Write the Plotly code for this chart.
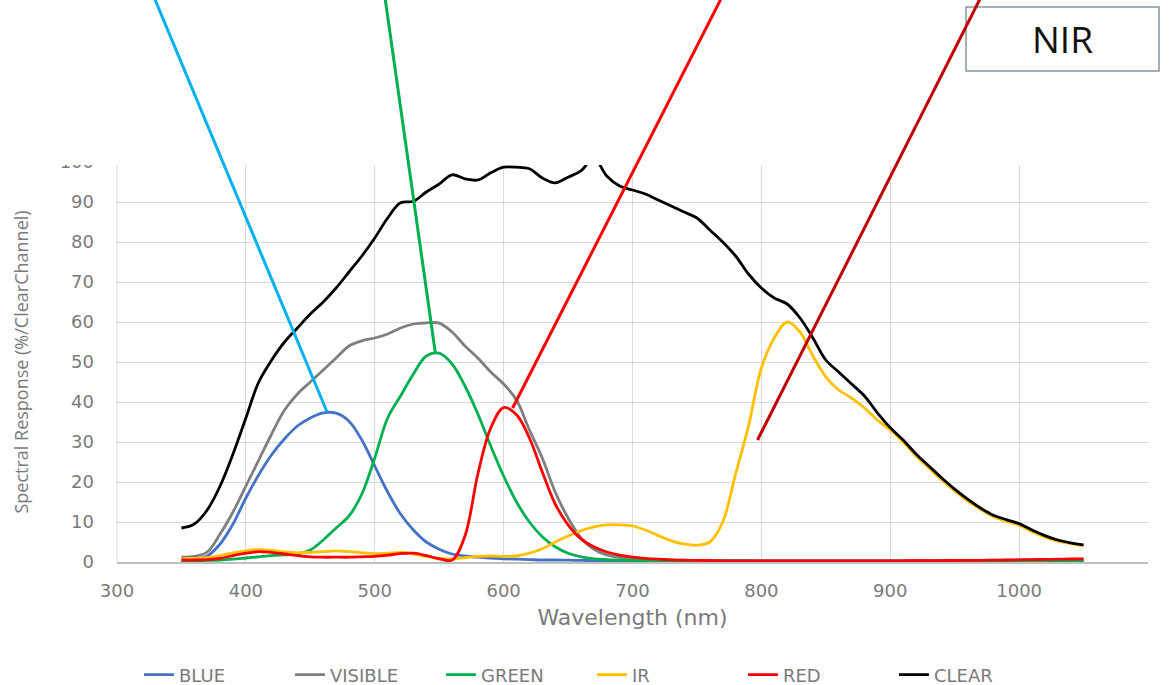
import plotly.graph_objects as go

wavelength = list(range(350, 1051, 10))

blue = [0.5, 0.7, 1.5, 4.5, 9.5, 16, 21.8, 26.8, 30.8, 34, 36, 37.3, 37.2, 35.2, 30.5,
        24, 17.5, 12, 8, 5, 3.2, 2, 1.5, 1.2, 1, 0.8, 0.7, 0.6, 0.5, 0.5,
        0.45, 0.4, 0.35, 0.3, 0.3, 0.3, 0.3, 0.3, 0.3, 0.3, 0.3, 0.3, 0.3, 0.3, 0.3,
        0.3, 0.3, 0.3, 0.3, 0.3, 0.3, 0.3, 0.3, 0.3, 0.3, 0.3, 0.3, 0.3, 0.3, 0.3,
        0.3, 0.3, 0.3, 0.3, 0.3, 0.3, 0.3, 0.3, 0.3, 0.3, 0.3]

visible = [1.2, 1.4, 2.5, 7, 12.5, 19, 25.5, 32, 38, 42, 45, 48, 51, 54, 55.3,
           56, 57, 58.5, 59.5, 59.8, 59.7, 57.5, 54, 51, 47.5, 44.5, 40.5, 33, 26, 17.5,
           11, 6, 3.2, 1.8, 1.2, 0.9, 0.7, 0.6, 0.5, 0.45, 0.4, 0.35, 0.35, 0.35, 0.35,
           0.35, 0.35, 0.35, 0.35, 0.35, 0.35, 0.35, 0.35, 0.35, 0.35, 0.35, 0.35, 0.35, 0.35, 0.4,
           0.4, 0.4, 0.4, 0.45, 0.45, 0.5, 0.5, 0.5, 0.55, 0.55, 0.6]

green = [0.3, 0.3, 0.4, 0.5, 0.7, 1, 1.3, 1.6, 1.8, 2, 3, 5.5, 8.5, 11.5, 17,
         26, 36, 41.5, 47, 51.5, 52.2, 49.5, 44, 37, 29, 21.5, 15, 10, 6.3, 3.8,
         2.2, 1.3, 0.8, 0.6, 0.5, 0.4, 0.35, 0.3, 0.3, 0.3, 0.3, 0.25, 0.25, 0.25, 0.25,
         0.2, 0.2, 0.2, 0.2, 0.2, 0.2, 0.2, 0.2, 0.2, 0.2, 0.2, 0.2, 0.2, 0.2, 0.2,
         0.2, 0.2, 0.2, 0.2, 0.2, 0.2, 0.2, 0.2, 0.2, 0.2, 0.2]

ir = [0.8, 0.9, 1.1, 1.6, 2.3, 2.8, 3.1, 2.9, 2.5, 2.3, 2.4, 2.6, 2.8, 2.6, 2.3,
      2.1, 2.2, 2.4, 2, 1.4, 0.9, 0.8, 1.1, 1.4, 1.5, 1.4, 1.5, 2.2, 3.3, 5,
      6.5, 7.8, 8.8, 9.3, 9.3, 9, 8, 6.6, 5.3, 4.5, 4.2, 5, 10, 22, 34,
      48.5, 56, 60, 57.5, 51.5, 46.3, 43, 41, 38.5, 35.5, 33, 30, 26.5, 23.5, 20.5,
      17.8, 15.3, 13.2, 11.3, 10.2, 9.2, 7.6, 6.2, 5.2, 4.6, 4.1]

red = [0.5, 0.5, 0.6, 0.9, 1.6, 2.2, 2.6, 2.4, 2, 1.6, 1.3, 1.2, 1.2, 1.2, 1.3,
       1.4, 1.7, 2.1, 2.2, 1.6, 0.8, 0.5, 6.5, 22, 33.5, 38.6, 36.8, 31, 22.5, 14.5,
       9.3, 5.8, 3.8, 2.5, 1.7, 1.2, 0.9, 0.7, 0.55, 0.45, 0.4, 0.35, 0.3, 0.3, 0.3,
       0.3, 0.3, 0.3, 0.3, 0.3, 0.3, 0.3, 0.3, 0.3, 0.3, 0.3, 0.3, 0.32, 0.34, 0.36,
       0.38, 0.4, 0.43, 0.46, 0.5, 0.55, 0.6, 0.65, 0.7, 0.75, 0.8]

clear = [8.5, 9.5, 13, 19, 27, 36, 45, 50.5, 55, 58.5, 62, 65, 68.5, 72.5, 76.5,
         81, 86, 89.8, 90.2, 92.5, 94.5, 96.8, 95.8, 95.5, 97.3, 98.7, 98.7, 98.3, 96, 94.8,
         96.2, 97.8, 101, 96.5, 94, 93, 92, 90.5, 89, 87.5, 86, 83, 80, 76.5, 72,
         68.5, 66, 64.5, 61, 56, 50.5, 47.5, 44.5, 41.5, 37.3, 33.6, 30.5, 27, 24, 21,
         18.2, 15.7, 13.5, 11.7, 10.6, 9.6, 8, 6.6, 5.5, 4.8, 4.3]

series = [
    ("BLUE", blue, "#4472C4"),
    ("VISIBLE", visible, "#7F7F7F"),
    ("GREEN", green, "#00B050"),
    ("IR", ir, "#FFC000"),
    ("RED", red, "#FF0000"),
    ("CLEAR", clear, "#000000"),
]

# pointer lines: colour, wavelength where the line leaves the top edge, end point (nm, %)
pointers = [
    ("#00B0F0", 329, (463, 37.5)),
    ("#00B050", 508, (547, 52.3)),
    ("#FF0000", 769, (607, 38.5)),
    ("#C00000", 970, (797, 30.5)),
]

X_RANGE = [300, 1100]
Y_RANGE = [0, 100]
TEXT_GREY = "#7a7a7a"
FONT = "DejaVu Sans"


def to_paper_x(nm):
    return (nm - X_RANGE[0]) / (X_RANGE[1] - X_RANGE[0])


def to_paper_y(pct):
    return (pct - Y_RANGE[0]) / (Y_RANGE[1] - Y_RANGE[0])


fig = go.Figure()

for name, values, color in series:
    fig.add_trace(go.Scatter(x=wavelength, y=values, name=name, mode="lines",
                             line=dict(color=color, width=2.8, shape="spline", smoothing=1.0)))

shapes = [
    # left gridline at 300 nm
    dict(type="line", xref="paper", yref="paper", x0=0, x1=0, y0=0, y1=1,
         line=dict(color="#D9D9D9", width=1), layer="below"),
    # white band over the top of the plot (hides the 100 gridline and half its label)
    dict(type="rect", xref="paper", yref="paper", x0=-0.2, x1=1.1, y0=0.9925, y1=1.5,
         fillcolor="white", line=dict(width=0), layer="above"),
    # NIR box
    dict(type="rect", xref="paper", yref="paper", x0=0.8235, x1=1.0107, y0=1.2275, y1=1.3875,
         fillcolor="white", line=dict(color="#8596A0", width=1.5), layer="above"),
]
for color, top_nm, (end_nm, end_pct) in pointers:
    shapes.append(dict(type="line", xref="paper", yref="paper",
                       x0=to_paper_x(top_nm), y0=1.41,
                       x1=to_paper_x(end_nm), y1=to_paper_y(end_pct),
                       line=dict(color=color, width=3), layer="above"))

fig.update_layout(
    width=1169, height=685,
    margin=dict(l=117, r=21, t=162, b=123, autoexpand=False),
    paper_bgcolor="white", plot_bgcolor="white",
    font=dict(family=FONT, color=TEXT_GREY),
    shapes=shapes,
    annotations=[dict(text="NIR", xref="paper", yref="paper", x=0.9171, y=1.3075,
                      xanchor="center", yanchor="middle", showarrow=False,
                      font=dict(family="Open Sans", size=37, color="#111111"))],
    legend=dict(orientation="h", x=0.4607, xanchor="center", y=-0.2825, yanchor="middle",
                font=dict(family=FONT, size=18, color=TEXT_GREY),
                entrywidth=106, entrywidthmode="pixels", traceorder="normal"),
    showlegend=True,
)

fig.update_xaxes(
    range=X_RANGE, dtick=100, tick0=300,
    showgrid=True, gridcolor="#D9D9D9", gridwidth=1,
    showline=True, linecolor="#BFBFBF", linewidth=1.5,
    zeroline=False, ticks="", ticklabelstandoff=12, automargin=False,
    tickfont=dict(family=FONT, size=18, color=TEXT_GREY),
    title=dict(text="Wavelength (nm)", font=dict(family=FONT, size=22, color=TEXT_GREY), standoff=9),
)
fig.update_yaxes(
    range=Y_RANGE, dtick=10,
    showgrid=True, gridcolor="#D9D9D9", gridwidth=1,
    showline=False, zeroline=False, ticks="", ticklabelstandoff=22, automargin=False,
    tickfont=dict(family=FONT, size=18, color=TEXT_GREY),
    title=dict(text="Spectral Response (%/ClearChannel)",
               font=dict(family="Open Sans", size=18, color=TEXT_GREY), standoff=26),
)

# the page's default body margin would shift the fixed-size figure by 8 px
fig.write_html("out.html", config={"displayModeBar": False},
               post_script="document.body.style.margin = '0';")
